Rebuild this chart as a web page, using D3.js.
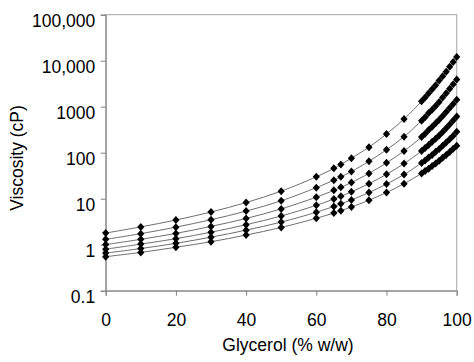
<!DOCTYPE html>
<html>
<head>
<meta charset="utf-8">
<script src="https://cdn.jsdelivr.net/npm/d3@7"></script>
<style>
  body { margin: 0; background: #fff; }
  text { font-family: "Liberation Sans", Arial, sans-serif; fill: #000; }
</style>
</head>
<body>
<svg id="chart" width="474" height="362"></svg>
<script>
// glycerol content, % w/w
var glycerol = [0, 10, 20, 30, 40, 50, 60, 65, 67, 70, 75, 80, 85, 90, 91, 92, 93, 94, 95, 96, 97, 98, 99, 100];

// viscosity (cP), one series per temperature (0 to 50 C)
var visc0 = [1.792, 2.44, 3.44, 5.14, 8.25, 14.6, 29.9, 45.7, 55.5, 76.0, 132, 255, 540, 1310, 1590, 1950, 2400, 2930, 3690, 4600, 5770, 7370, 9420, 12070];
var visc10 = [1.308, 1.74, 2.41, 3.49, 5.37, 9.01, 17.4, 25.3, 29.9, 38.8, 65.2, 116, 223, 498, 592, 729, 860, 1040, 1270, 1580, 1950, 2460, 3090, 3900];
var visc20 = [1.005, 1.31, 1.76, 2.50, 3.72, 6.00, 10.8, 15.2, 17.7, 22.5, 35.5, 60.1, 109, 219, 259, 310, 367, 437, 523, 624, 765, 939, 1150, 1410];
var visc30 = [0.8007, 1.03, 1.35, 1.87, 2.72, 4.21, 7.19, 9.85, 11.3, 14.1, 21.2, 33.9, 58.0, 109, 127, 147, 172, 202, 237, 281, 340, 409, 500, 612];
var visc40 = [0.656, 0.826, 1.07, 1.46, 2.07, 3.10, 5.08, 6.80, 7.73, 9.40, 13.6, 20.8, 33.5, 60.0, 68.1, 78.3, 89.0, 105, 121, 142, 166, 196, 235, 284];
var visc50 = [0.5494, 0.680, 0.879, 1.16, 1.62, 2.37, 3.76, 4.89, 5.50, 6.61, 9.25, 13.6, 21.2, 35.5, 39.8, 44.8, 51.5, 58.4, 67.0, 77.8, 88.9, 104, 122, 142];

var series = [visc0, visc10, visc20, visc30, visc40, visc50];

var xTicks = [0, 20, 40, 60, 80, 100];
var yTicks = [0.1, 1, 10, 100, 1000, 10000, 100000];
var yTickLabels = ["0.1", "1", "10", "100", "1000", "10,000", "100,000"];

var margin = {top: 14.7, right: 17.3, bottom: 71.3, left: 105.7},
  width = 474 - margin.left - margin.right,
  height = 362 - margin.top - margin.bottom;

var svg = d3.select("#chart");
var g = svg.append("g")
  .attr("transform", "translate(" + margin.left + "," + margin.top + ")");

var x = d3.scaleLinear().domain([0, 100]).range([0, width]);
var y = d3.scaleLog().domain([0.1, 100000]).range([height, 0]);

// plot frame
g.append("rect")
  .attr("x", 0).attr("y", 0)
  .attr("width", width).attr("height", height)
  .attr("fill", "none")
  .attr("stroke", "#a6a6a6")
  .attr("stroke-width", 1);

// x axis
var xAxis = g.append("g")
  .attr("transform", "translate(0," + height + ")")
  .call(d3.axisBottom(x).tickValues(xTicks).tickSize(5).tickPadding(0).tickFormat(d3.format("d")));
xAxis.select(".domain").attr("stroke", "#808080");
xAxis.selectAll(".tick line").attr("stroke", "#808080");
xAxis.selectAll(".tick text")
  .attr("y", 35.5).attr("dy", null)
  .attr("font-size", "17.5px")
  .attr("font-family", "Liberation Sans, Arial, sans-serif");

// y axis
var yAxis = g.append("g")
  .call(d3.axisLeft(y).tickValues(yTicks).tickSize(5).tickPadding(0)
    .tickFormat(function(d, i) { return yTickLabels[i]; }));
yAxis.select(".domain").attr("stroke", "#808080");
yAxis.selectAll(".tick line").attr("stroke", "#808080");
yAxis.selectAll(".tick text")
  .attr("x", -10.5).attr("dy", "0.72em").attr("y", -0.5)
  .attr("font-size", "17.5px")
  .attr("font-family", "Liberation Sans, Arial, sans-serif");

// axis titles
svg.append("text")
  .attr("x", 288).attr("y", 351)
  .attr("text-anchor", "middle")
  .attr("font-size", "17.5px")
  .text("Glycerol (% w/w)");

svg.append("text")
  .attr("transform", "translate(23,158) rotate(-90)")
  .attr("text-anchor", "middle")
  .attr("font-size", "17.5px")
  .text("Viscosity (cP)");

// curves
var line = d3.line()
  .x(function(d, i) { return x(glycerol[i]); })
  .y(function(d) { return y(d); })
  .curve(d3.curveCatmullRom.alpha(0.5));

g.selectAll("path.curve")
  .data(series)
  .enter().append("path")
  .attr("class", "curve")
  .attr("d", line)
  .attr("fill", "none")
  .attr("stroke", "#6e6e6e")
  .attr("stroke-width", 1);

// diamond markers
var diamond = {
  draw: function(context, size) {
    var w = 3.6, h = 4;
    context.moveTo(0, -h);
    context.lineTo(w, 0);
    context.lineTo(0, h);
    context.lineTo(-w, 0);
    context.closePath();
  }
};

series.forEach(function(vals) {
  g.selectAll(null)
    .data(vals)
    .enter().append("path")
    .attr("d", d3.symbol().type(diamond))
    .attr("transform", function(d, i) {
      return "translate(" + x(glycerol[i]) + "," + y(d) + ")";
    })
    .attr("fill", "#000");
});
</script>
</body>
</html>
